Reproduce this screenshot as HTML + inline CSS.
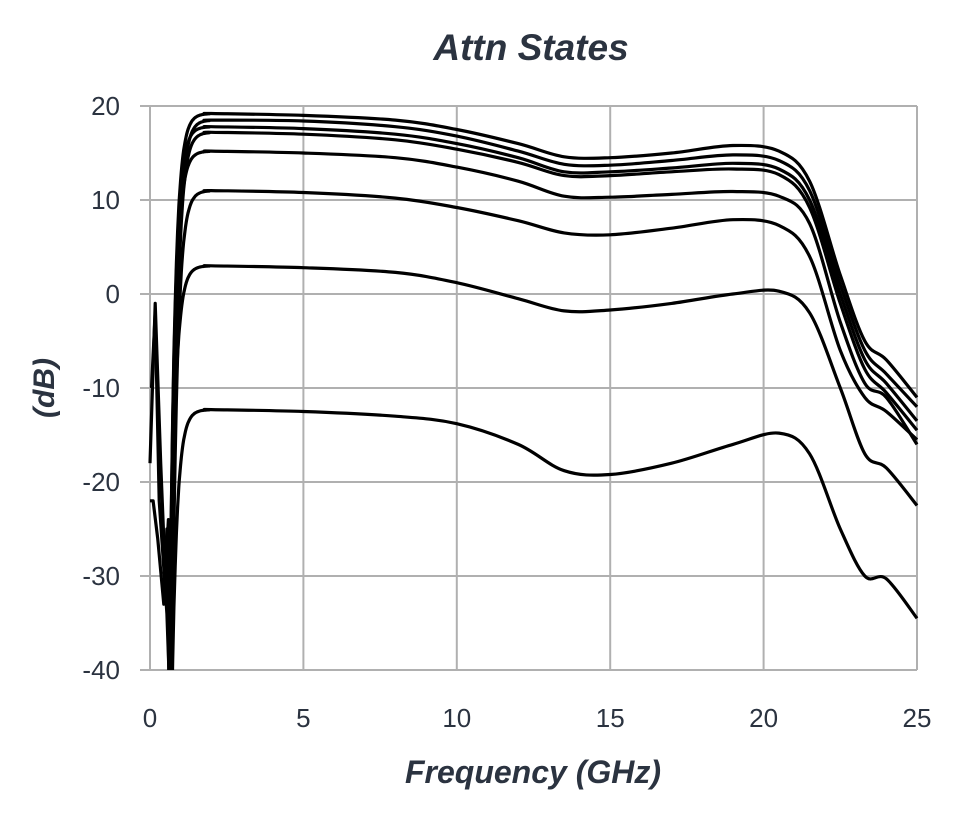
<!DOCTYPE html>
<html><head><meta charset="utf-8"><style>
html,body{margin:0;padding:0;background:#fff;}
svg{display:block;}
text{font-family:"Liberation Sans",sans-serif;fill:#2b3340;}
</style></head><body>
<svg id="s" width="966" height="816" xmlns="http://www.w3.org/2000/svg">
<text x="531" y="60" font-size="37" font-weight="bold" font-style="italic" text-anchor="middle">Attn States</text>
<g stroke="#b0b0b0" stroke-width="2" id="grid"></g>
<g font-size="26" id="lab"></g>
<text x="533" y="783" font-size="32" font-weight="bold" font-style="italic" text-anchor="middle">Frequency (GHz)</text>
<text transform="translate(54,388) rotate(-90)" font-size="30" font-weight="bold" font-style="italic" text-anchor="middle">(dB)</text>
<defs><clipPath id="c"><rect x="140" y="90" width="790" height="580"/></clipPath></defs>
<g id="curves" clip-path="url(#c)" fill="none" stroke="#000" stroke-width="3.2" stroke-linejoin="round"></g>
</svg>
<script>
var NS="http://www.w3.org/2000/svg";
function X(f){return 150+f*30.68;}
function Y(v){return 294-v*9.4;}
var g=document.getElementById('grid'),lab=document.getElementById('lab'),cv=document.getElementById('curves');
function el(p,t,a,txt){var e=document.createElementNS(NS,t);for(var k in a)e.setAttribute(k,a[k]);if(txt!=null)e.textContent=txt;p.appendChild(e);return e;}
for(var v=-40;v<=20;v+=10){el(g,'line',{x1:140,x2:917,y1:Y(v),y2:Y(v)});el(lab,'text',{x:120,y:Y(v)+9,'text-anchor':'end'},String(v));}
for(var f=0;f<=25;f+=5){el(g,'line',{x1:X(f),x2:X(f),y1:Y(20),y2:Y(-40)});el(lab,'text',{x:X(f),y:727,'text-anchor':'middle'},String(f));}
var xs=[2,5,8,10,12,13.5,15,17,19,20.5,21.5,22.5,23.3,24,25];
var D=[
[19.2,19,18.5,17.5,16,14.6,14.5,15,15.8,15.2,12,2,-5,-7,-11],
[18.5,18.4,17.8,16.8,15.2,13.8,13.7,14.2,14.8,14.2,11,1,-6,-8.5,-12],
[17.8,17.6,17,16,14.5,13,13,13.4,13.9,13.3,10,0,-7,-9.5,-13.5],
[17.2,17,16.4,15.4,14,12.6,12.6,13,13.3,12.7,9.2,-1,-8,-10.5,-14.5],
[15.2,15,14.5,13.5,12,10.4,10.3,10.6,10.9,10.4,7.5,-3,-9.5,-11,-16],
[11,10.8,10.2,9.2,7.8,6.5,6.3,7,7.9,7.3,4,-6,-11,-12.5,-15.5],
[3,2.8,2.3,1.2,-0.5,-1.8,-1.7,-1,0,0.3,-2,-10,-17,-18.5,-22.5],
[-12.3,-12.5,-13,-13.8,-16,-18.8,-19.2,-18,-16,-14.8,-17,-25,-30,-30.3,-34.5]];
function cr(pts){var d='M'+pts[0][0].toFixed(1)+','+pts[0][1].toFixed(1);
for(var i=0;i<pts.length-1;i++){var p0=pts[i-1]||pts[i],p1=pts[i],p2=pts[i+1],p3=pts[i+2]||p2;
var c1=[p1[0]+(p2[0]-p0[0])/6,p1[1]+(p2[1]-p0[1])/6],c2=[p2[0]-(p3[0]-p1[0])/6,p2[1]-(p3[1]-p1[1])/6];
d+='C'+c1[0].toFixed(1)+','+c1[1].toFixed(1)+' '+c2[0].toFixed(1)+','+c2[1].toFixed(1)+' '+p2[0].toFixed(1)+','+p2[1].toFixed(1);}return d;}
D.forEach(function(r,i){var P=r[0];var lo=i%2?0.7:0.62;
var pts=[];
for(var f=lo;f<1.95;f+=0.04){pts.push([f,P-(P+46)*Math.exp(-(f-lo)/0.17)]);}
xs.forEach(function(x,j){pts.push([x,r[j]]);});
el(cv,'path',{d:cr(pts.map(function(p){return [X(p[0]),Y(p[1])];}))});});
var spk=[
[[0,-18],[0.17,-1],[0.35,-18],[0.5,-30],[0.6,-24],[0.66,-40],[0.7,-46]],
[[0,-22],[0.1,-22],[0.25,-26],[0.45,-33],[0.55,-25],[0.62,-42]],
[[0.05,-10],[0.17,-2],[0.3,-22],[0.55,-34],[0.68,-46]]];
spk.forEach(function(s){el(cv,'path',{d:'M'+s.map(function(p){return X(p[0]).toFixed(1)+','+Y(p[1]).toFixed(1);}).join('L')});});
</script>
</body></html>
